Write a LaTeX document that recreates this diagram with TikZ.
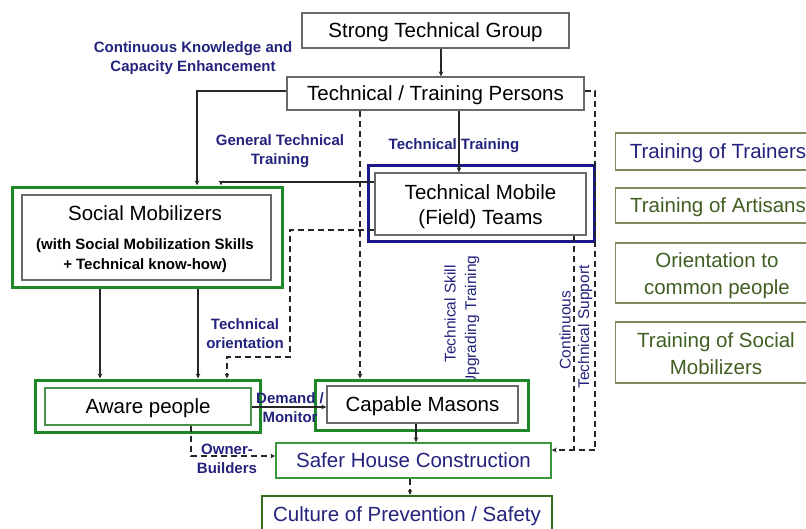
\documentclass[tikz,border=0pt]{standalone}
\usepackage{fontspec}
\setmainfont{Liberation Sans}
\usetikzlibrary{arrows.meta}
\definecolor{lblue}{RGB}{35,35,125}
\definecolor{gboxc}{RGB}{30,135,40}
\definecolor{bboxc}{RGB}{25,25,140}
\definecolor{grayc}{RGB}{105,105,105}
\definecolor{olivec}{RGB}{125,140,90}
\definecolor{olivet}{RGB}{65,95,35}
\definecolor{lgreen}{RGB}{60,150,60}
\definecolor{dgreen}{RGB}{50,110,30}
\tikzset{
  mainfont/.style={font=\fontsize{20.5}{25}\selectfont},
  capc/.style={text height=14.9pt, text depth=0pt},
  lbl/.style={font=\fontsize{15}{19}\bfseries\selectfont, text=lblue, align=center, inner sep=0pt},
  rlbl/.style={font=\fontsize{15.5}{19}\selectfont, text=lblue, inner sep=0pt, rotate=90},
  plainbox/.style={draw=grayc, line width=1.2pt, fill=white, inner sep=0pt, mainfont, capc},
  outergreen/.style={draw=gboxc, line width=3pt, fill=white, inner sep=0pt},
  outerblue/.style={draw=bboxc, line width=3pt, fill=white, inner sep=0pt},
  innerbox/.style={draw=grayc, line width=1.3pt, fill=white, inner sep=0pt, mainfont, capc},
  innergreen/.style={draw=lgreen!80!gray, line width=1.3pt, fill=white, inner sep=0pt, mainfont, capc},
  rightbox/.style={draw=olivec, line width=1.2pt, fill=white, inner sep=0pt, text=olivet, font=\fontsize{20.5}{27}\selectfont},
  righttext/.style={inner sep=0pt, align=center, text=olivet, font=\fontsize{20.5}{27}\selectfont},
  conn/.style={line width=1.4pt, draw=black!85, -{Stealth[length=5pt,width=4.5pt]}},
  dconn/.style={line width=1.4pt, draw=black!85, dash pattern=on 6pt off 4pt, -{Stealth[length=5pt,width=4.5pt]}},
  dline/.style={line width=1.4pt, draw=black!85, dash pattern=on 6pt off 4pt},
}
\begin{document}
\begin{tikzpicture}[x=1pt,y=-1pt]
\useasboundingbox (0,0) rectangle (806,528);
\clip (0,0) rectangle (806,528);

% rotated labels first (partly hidden behind boxes)
\node[rlbl] (lskill) at (450,314) {Technical Skill};
\node[rlbl] (lupg) at (472,321) {Upgrading Training};
\node[rlbl] (lcont) at (565,330) {Continuous};
\node[rlbl] (ltsup) at (585,327) {Technical Support};

% main boxes
\node[plainbox, minimum width=267pt, minimum height=35pt] (stg) at (435.5,30.5) {Strong Technical Group};
\node[plainbox, minimum width=297pt, minimum height=33pt] (ttp) at (435.5,93.5) {Technical / Training Persons};

\node[outerblue, minimum width=226pt, minimum height=76pt] (tmo) at (481,203) {};
\node[innerbox, minimum width=211pt, minimum height=62pt] (tmi) at (480.5,204) {};
\node[mainfont, align=center, inner sep=0pt] (tmit) at (480.5,207) {Technical Mobile\\(Field) Teams};

\node[outergreen, minimum width=270pt, minimum height=100pt] (smo) at (147,237) {};
\node[innerbox, minimum width=249pt, minimum height=85pt] (smi) at (146.5,237.5) {};
\node[mainfont, capc, inner sep=0pt] (smt) at (145,213) {Social Mobilizers};
\node[font=\fontsize{15}{20}\bfseries\selectfont, align=center, inner sep=0pt] (sms) at (145,256) {(with Social Mobilization Skills\\+ Technical know-how)};

\node[outergreen, minimum width=225pt, minimum height=52pt] (apo) at (147.5,406) {};
\node[innergreen, minimum width=206pt, minimum height=37pt] (api) at (148,406.5) {Aware people};

\node[outergreen, minimum width=213pt, minimum height=50pt] (cmo) at (421.5,405) {};
\node[innerbox, minimum width=191pt, minimum height=37pt] (cmi) at (422.5,404.5) {Capable Masons};

\node[draw=lgreen, line width=1.5pt, fill=white, inner sep=0pt, minimum width=275pt, minimum height=35pt, mainfont, capc, text=lblue] (shc) at (413.5,460.5) {Safer House Construction};
\node[draw=dgreen, line width=2pt, fill=white, inner sep=0pt, minimum width=290pt, minimum height=41pt] (cps) at (407,516.5) {};
\node[mainfont, capc, text=lblue, inner sep=0pt] (cpst) at (407,514) {Culture of Prevention / Safety};

% right side boxes
\node[rightbox, capc, minimum width=205pt, minimum height=37pt, text=lblue] (r1) at (718,151.5) {Training of Trainers};
\node[rightbox, capc, minimum width=205pt, minimum height=35pt] (r2) at (718,205.5) {Training of Artisans};
\node[rightbox, minimum width=205pt, minimum height=60pt] (r3) at (718,273) {};
\node[righttext] (r3t) at (717,276) {Orientation to\\common people};
\node[rightbox, minimum width=205pt, minimum height=61pt] (r4) at (718,352.5) {};
\node[righttext] (r4t) at (716,354) {Training of Social\\Mobilizers};

% labels
\node[lbl] (lcke) at (193,58.5) {Continuous Knowledge and\\Capacity Enhancement};
\node[lbl] (lgtt) at (280,151) {General Technical\\Training};
\node[lbl] (ltt) at (454,146) {Technical Training};
\node[lbl] (lto) at (245,334) {Technical\\orientation};
\node[lbl] (ldm) at (290,408) {Demand /\\Monitor};
\node[lbl] (lob) at (227,459) {Owner-\\Builders};

% reference coordinates
\coordinate (x100) at (100,0);
\coordinate (x191) at (191,0);
\coordinate (x197) at (197,0);
\coordinate (x198) at (198,0);
\coordinate (x221) at (221,0);
\coordinate (x227) at (227,0);
\coordinate (x360) at (360,0);
\coordinate (x410) at (410,0);
\coordinate (x416) at (416,0);
\coordinate (x441) at (441,0);
\coordinate (x459) at (459,0);
\coordinate (x574) at (574,0);
\coordinate (y91) at (0,91);
\coordinate (y182) at (0,182);
\coordinate (y230) at (0,230);
\coordinate (y407) at (0,407);
\coordinate (y450) at (0,450);
\coordinate (y456) at (0,456);
\coordinate (bend1) at (290,230);
\coordinate (bend2) at (290,357);
\coordinate (bend3) at (595,450);

% connectors
\draw[conn] (stg.south -| x441) -- (ttp.north -| x441);
\draw[conn] (ttp.west |- y91) -| (smo.north -| x197);
\draw[conn] (ttp.south -| x459) -- (tmi.north -| x459);
\draw[conn] (tmi.west |- y182) -| (smo.north -| x221);
\draw[dconn] (ttp.south -| x360) -- (cmo.north -| x360);
\draw[dconn] (tmi.west |- y230) -- (bend1) -- (bend2) -| (apo.north -| x227);
\draw[conn] (smo.south -| x100) -- (apo.north -| x100);
\draw[conn] (smo.south -| x198) -- (apo.north -| x198);
\draw[conn] (api.east |- y407) -- (cmi.west |- y407);
\draw[conn] (cmi.south -| x416) -- (shc.north -| x416);
\draw[dconn] (api.south -| x191) |- (shc.west |- y456);
\draw[dconn] (shc.south -| x410) -- (cps.north -| x410);
\draw[dline] (ttp.east |- y91) -| (bend3);
\draw[dline] (tmi.south -| x574) -- (bend3 -| x574);
\draw[dconn] (bend3) -- (shc.east |- y450);
\end{tikzpicture}
\end{document}
